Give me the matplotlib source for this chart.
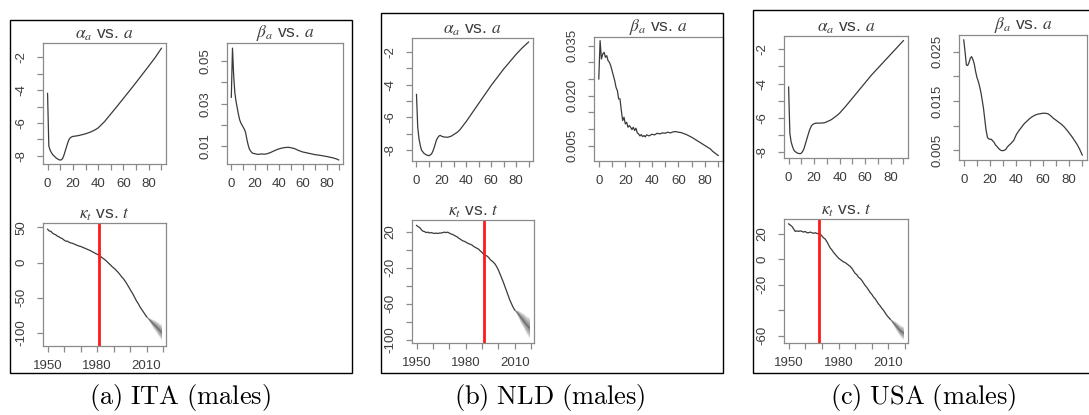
import matplotlib
matplotlib.use('Agg')
import matplotlib.pyplot as plt
from matplotlib.patches import Rectangle

plt.rcParams['font.family'] = ['Liberation Sans', 'DejaVu Sans']
plt.rcParams['mathtext.fontset'] = 'stix'

# ---------------- data ----------------
countries = ['ITA', 'NLD', 'USA']
captions = ['(a) ITA (males)', '(b) NLD (males)', '(c) USA (males)']

# alpha_a
ita_alpha_age = [0, 1, 2, 3, 4, 5, 7, 9, 10, 11, 12, 13, 14, 15, 16, 17, 18, 19, 20, 22, 25, 28, 30, 33, 35, 38, 40,
                 45, 50, 55, 60, 65, 70, 75, 80, 85, 90]
ita_alpha = [-4.2, -7.4, -7.65, -7.8, -7.92, -8.0, -8.15, -8.24, -8.26, -8.24, -8.15, -7.95, -7.7, -7.45, -7.2, -7.0,
             -6.9, -6.85, -6.82, -6.8, -6.76, -6.7, -6.66, -6.58, -6.52, -6.4, -6.3, -5.92, -5.45, -4.98, -4.5, -4.02,
             -3.53, -3.03, -2.53, -2.02, -1.45]
nld_alpha_age = [0, 1, 2, 3, 4, 6, 8, 10, 12, 13, 14, 15, 16, 17, 18, 19, 20, 22, 25, 28, 30, 33, 35, 38, 40,
                 45, 50, 55, 60, 65, 70, 75, 80, 85, 90]
nld_alpha = [-4.6, -6.6, -7.3, -7.7, -8.0, -8.2, -8.3, -8.35, -8.25, -8.1, -7.9, -7.65, -7.4, -7.25, -7.15, -7.1,
             -7.15, -7.2, -7.22, -7.15, -7.05, -6.9, -6.75, -6.45, -6.25, -5.7, -5.15, -4.6, -4.05, -3.55, -3.05,
             -2.6, -2.15, -1.75, -1.4]
usa_alpha_age = [0, 1, 2, 3, 4, 5, 7, 9, 10, 11, 12, 13, 14, 15, 16, 17, 18, 19, 20, 22, 25, 28, 30, 33, 35, 38, 40,
                 45, 50, 55, 60, 65, 70, 75, 80, 85, 90]
usa_alpha = [-4.2, -6.9, -7.4, -7.65, -7.85, -7.95, -8.05, -8.08, -8.05, -7.95, -7.8, -7.55, -7.3, -7.05, -6.8, -6.6,
             -6.45, -6.38, -6.33, -6.3, -6.3, -6.28, -6.22, -6.12, -6.02, -5.85, -5.72, -5.3, -4.85, -4.4, -3.95,
             -3.5, -3.1, -2.7, -2.3, -1.9, -1.5]

# beta_a
ita_beta_age = [0, 1, 2, 3, 4, 5, 6, 7, 8, 9, 10, 11, 12, 13, 14, 15, 16, 17, 18, 20, 22, 25, 28, 30, 33, 36, 39, 42,
                45, 48, 50, 53, 56, 60, 65, 70, 75, 80, 85, 88, 90]
ita_beta = [0.033, 0.056, 0.043, 0.035, 0.031, 0.028, 0.025, 0.0225, 0.021, 0.020, 0.019, 0.018, 0.0165, 0.0135,
            0.011, 0.009, 0.008, 0.0073, 0.0068, 0.0066, 0.0063, 0.0065, 0.0064, 0.0066, 0.0072, 0.008, 0.0087,
            0.0092, 0.0095, 0.0096, 0.0094, 0.009, 0.0082, 0.0074, 0.0068, 0.0062, 0.0058, 0.0053, 0.0047, 0.0042,
            0.0037]
nld_beta_age = [0, 1, 2, 3, 4, 5, 6, 7, 8, 9, 10, 11, 12, 13, 14, 15, 16, 17, 18, 19, 20, 21, 22, 23, 24, 25, 26, 27,
                28, 29, 30, 31, 32, 33, 34, 35, 36, 38, 40, 42, 44, 46, 48, 50, 52, 54, 56, 58, 60, 62, 64, 66, 68,
                70, 72, 74, 76, 78, 80, 82, 84, 86, 88, 90]
nld_beta = [0.025, 0.0365, 0.031, 0.0325, 0.033, 0.0315, 0.032, 0.0305, 0.030, 0.029, 0.0275, 0.026, 0.0245, 0.0225,
            0.0215, 0.019, 0.019, 0.0155, 0.0125, 0.0135, 0.0115, 0.012, 0.0105, 0.011, 0.0105, 0.0098, 0.0105,
            0.0095, 0.0102, 0.0088, 0.0085, 0.0079, 0.0083, 0.0077, 0.008, 0.0076, 0.0082, 0.0079, 0.0084, 0.0082,
            0.0087, 0.0085, 0.0088, 0.0087, 0.009, 0.0088, 0.0091, 0.0092, 0.009, 0.0089, 0.0086, 0.0083, 0.0079,
            0.0075, 0.007, 0.0065, 0.006, 0.0055, 0.005, 0.0045, 0.004, 0.0032, 0.0026, 0.0020]
usa_beta_age = [0, 1, 2, 3, 4, 5, 6, 7, 8, 9, 10, 11, 12, 13, 14, 15, 16, 17, 18, 19, 20, 21, 22, 23, 24, 25, 26, 27,
                28, 29, 30, 31, 32, 33, 34, 36, 38, 40, 42, 44, 46, 48, 50, 52, 54, 56, 58, 60, 62, 64, 66, 68, 70,
                72, 74, 76, 78, 80, 82, 84, 86, 88, 90]
usa_beta = [0.0274, 0.025, 0.0223, 0.0222, 0.0228, 0.0237, 0.024, 0.0234, 0.0225, 0.021, 0.0198, 0.019, 0.018,
            0.0168, 0.0152, 0.0135, 0.0112, 0.009, 0.0076, 0.0073, 0.0072, 0.0072, 0.0069, 0.0066, 0.0061, 0.0058,
            0.0055, 0.0052, 0.005, 0.0049, 0.0049, 0.005, 0.0052, 0.0056, 0.0059, 0.0064, 0.007, 0.0082, 0.009,
            0.0097, 0.0104, 0.0109, 0.0114, 0.0118, 0.0121, 0.0123, 0.0124, 0.0125, 0.0125, 0.0124, 0.012, 0.0115,
            0.0111, 0.0107, 0.0103, 0.0098, 0.0092, 0.0085, 0.0078, 0.007, 0.0062, 0.0052, 0.004]

# kappa_t (fitted)
ita_kappa_year = list(range(1950, 2011))
ita_kappa = [47.5, 45.0, 44.5, 42.0, 40.5, 39.5, 37.5, 36.5, 35.0, 34.0, 32.0, 30.5, 30.5, 29.0, 28.0, 27.5, 26.5,
             25.5, 24.5, 23.5, 23.0, 22.0, 21.0, 20.0, 19.0, 18.0, 17.0, 15.5, 14.5, 13.0, 12.0, 10.5, 9.0, 7.0,
             5.5, 3.5, 1.5, -1.0, -3.0, -5.5, -7.5, -9.5, -12.0, -14.5, -17.5, -20.5, -23.0, -26.5, -30.0, -34.0,
             -38.0, -42.0, -46.0, -50.5, -55.0, -58.5, -63.0, -66.5, -70.0, -73.5, -77.0]
nld_kappa_year = list(range(1950, 2011))
nld_kappa = [27, 25.5, 24.5, 22, 20.5, 20, 19, 19.5, 18.5, 19, 18.5, 18, 18.5, 18, 18.5, 18.5, 19, 19.5, 19, 19.5,
             18.5, 17.5, 17, 16, 15, 14, 12.5, 11.5, 10, 9.5, 8.5, 7.5, 6.5, 6, 5, 3.5, 2.5, 1.5, 0.5, -1.5, -3,
             -5, -6, -7, -8.5, -11, -12.5, -14, -16, -19, -22.5, -27, -31.5, -36, -41, -46, -51, -56, -60, -64, -67]
usa_kappa_year = list(range(1950, 2012))
usa_kappa = [28, 27, 26, 24, 22, 22.5, 22, 22.5, 22, 21.5, 22, 21, 21, 21.5, 21, 20.5, 21, 20.5, 20, 20, 18.5, 17,
             16, 14, 11.5, 9, 7.5, 5.5, 4, 2.5, 1, 0, -1, -2, -2.5, -3.5, -4.5, -5.5, -7, -9, -11, -12, -14, -15,
             -16.5, -18.5, -20.5, -22, -24, -26, -27.5, -29.5, -31, -33, -35, -36.5, -38.5, -40, -42, -44, -45.5,
             -47]

# kappa_t simulated fan (centre and outer half-width)
ita_fan_year = list(range(2010, 2020))
ita_fan_mid = [-77, -79.5, -82, -84.5, -87, -89, -91.5, -94, -96.5, -99]
ita_fan_half = [0, 1.5, 3, 4.5, 6, 7, 8, 9, 10, 11]
nld_fan_year = list(range(2010, 2020))
nld_fan_mid = [-67, -69, -71, -73.5, -76, -78, -80.5, -83, -85, -87]
nld_fan_half = [0, 2, 3.5, 5, 6.5, 7.5, 8.5, 9.5, 10.5, 11.5]
usa_fan_year = list(range(2011, 2020))
usa_fan_mid = [-47, -48.5, -50, -51.5, -53, -54.5, -56, -57, -58]
usa_fan_half = [0, 1.2, 2, 2.8, 3.4, 4, 4.4, 4.8, 5]

# cut-off years (red lines)
cut_year = [1981, 1991, 1968]

# ticks
age_major = [0, 20, 40, 60, 80]
age_major_labels = ['0', '20', '40', '60', '80']
age_minor = [10, 30, 50, 70, 90]
year_major = [1950, 1980, 2010]
year_major_labels = ['1950', '1980', '2010']
year_minor = [1960, 1970, 1990, 2000, 2020]
alpha_major = [-2, -4, -6, -8]
alpha_major_labels = ['-2', '-4', '-6', '-8']
alpha_minor = [-3, -5, -7]
beta_major = [[0.01, 0.03, 0.05], [0.005, 0.020, 0.035], [0.005, 0.015, 0.025]]
beta_major_labels = [['0.01', '0.03', '0.05'], ['0.005', '0.020', '0.035'], ['0.005', '0.015', '0.025']]
beta_minor = [[0.02, 0.04], [0.010, 0.015, 0.025, 0.030], [0.010, 0.020]]
kappa_major = [[50, 0, -50, -100], [20, -20, -60, -100], [20, 0, -20, -60]]
kappa_major_labels = [['50', '0', '-50', '-100'], ['20', '-20', '-60', '-100'], ['20', '0', '-20', '-60']]
kappa_minor = [[], [0, -40, -80], [-40]]

alpha_ages = [ita_alpha_age, nld_alpha_age, usa_alpha_age]
alphas = [ita_alpha, nld_alpha, usa_alpha]
beta_ages = [ita_beta_age, nld_beta_age, usa_beta_age]
betas = [ita_beta, nld_beta, usa_beta]
kappa_years = [ita_kappa_year, nld_kappa_year, usa_kappa_year]
kappas = [ita_kappa, nld_kappa, usa_kappa]
fan_years = [ita_fan_year, nld_fan_year, usa_fan_year]
fan_mids = [ita_fan_mid, nld_fan_mid, usa_fan_mid]
fan_halves = [ita_fan_half, nld_fan_half, usa_fan_half]

# ---------------- layout (pixels) ----------------
W, H = 1089, 415
fig = plt.figure(figsize=(W / 100, H / 100), dpi=100)


def frac(x0, y0, x1, y1):
    return [x0 / W, 1 - y1 / H, (x1 - x0) / W, (y1 - y0) / H]


boxes = [(10, 20, 352, 373), (381, 13, 723, 373), (753, 10, 1120, 373)]
alpha_rects = [(43, 43, 166, 164), (412, 38, 533, 161), (784, 36, 908, 158)]
beta_rects = [(227, 43, 343, 164), (594, 37, 723, 161), (959, 35, 1087, 160)]
kappa_rects = [(43, 223, 166, 346), (412, 220, 534, 343), (784, 219, 908, 343)]
caption_x = [180, 550, 923]
alpha_ylims = [(-8.5, -1.13), (-8.67, -1.15), (-8.33, -1.23)]
beta_ylims = [(0.0018, 0.0584), (0.00036, 0.0376), (0.0030, 0.0284)]
kappa_ylims = [(-118.6, 56.3), (-103.7, 33.0), (-65.8, 31.8)]
age_xlim = (-3.6, 93.6)
year_xlim = (1947.24, 2021.76)

FRAME = '#8a8a8a'
LINE = '#3a3a3a'
TXT = '#3c3c3c'


def style(ax, xmaj, xlab, xmin, ymaj, ylab, ymin):
    ax.set_xticks(xmaj)
    ax.set_xticklabels(xlab)
    ax.set_xticks(xmin, minor=True)
    ax.set_yticks(ymaj)
    ax.set_yticklabels(ylab, rotation=90, va='center')
    ax.set_yticks(ymin, minor=True)
    for s in ax.spines.values():
        s.set_color(FRAME)
        s.set_linewidth(0.9)
    ax.tick_params(which='both', direction='out', length=4, width=0.9, color=FRAME)
    ax.tick_params(axis='x', which='major', pad=6, labelsize=9.5, labelcolor=TXT)
    ax.tick_params(axis='y', which='major', pad=7, labelsize=9.5, labelcolor=TXT)


def title(ax, s):
    ax.set_title(s, fontsize=12.5, color=TXT, pad=3)


for i in range(3):
    bx = boxes[i]
    fig.patches.append(Rectangle((bx[0] / W, 1 - bx[3] / H), (bx[2] - bx[0]) / W, (bx[3] - bx[1]) / H,
                                 transform=fig.transFigure, fill=False, edgecolor='black', linewidth=1.0))

    # alpha
    ax = fig.add_axes(frac(*alpha_rects[i]))
    ax.plot(alpha_ages[i], alphas[i], color=LINE, lw=0.9)
    ax.set_xlim(age_xlim)
    ax.set_ylim(alpha_ylims[i])
    style(ax, age_major, age_major_labels, age_minor, alpha_major, alpha_major_labels, alpha_minor)
    title(ax, r'$\alpha_a$ vs. $a$')

    # beta
    ax = fig.add_axes(frac(*beta_rects[i]))
    ax.plot(beta_ages[i], betas[i], color=LINE, lw=0.9)
    ax.set_xlim(age_xlim)
    ax.set_ylim(beta_ylims[i])
    style(ax, age_major, age_major_labels, age_minor, beta_major[i], beta_major_labels[i], beta_minor[i])
    title(ax, r'$\beta_a$ vs. $a$')

    # kappa
    ax = fig.add_axes(frac(*kappa_rects[i]))
    fy, fm, fh = fan_years[i], fan_mids[i], fan_halves[i]
    for k in [1.0, 0.8, 0.6, 0.4, 0.2]:
        ax.fill_between(fy, [m - h * k for m, h in zip(fm, fh)], [m + h * k for m, h in zip(fm, fh)],
                        color='#4a4a4a', alpha=0.18, linewidth=0)
    ax.plot(fy, fm, color='#555555', lw=0.8, alpha=0.6)
    ax.plot(kappa_years[i], kappas[i], color=LINE, lw=0.9)
    ax.axvline(cut_year[i], color='#ff1a1a', lw=2)
    ax.set_xlim(year_xlim)
    ax.set_ylim(kappa_ylims[i])
    style(ax, year_major, year_major_labels, year_minor, kappa_major[i], kappa_major_labels[i], kappa_minor[i])
    title(ax, r'$\kappa_t$ vs. $t$')

    cap = '$\\mathrm{' + captions[i].replace(' ', '\\ ') + '}$'
    fig.text(caption_x[i] / W, 1 - 397 / H, cap, ha='center', va='center', fontsize=19,
             math_fontfamily='cm', color='black')

fig.savefig('out.png', dpi=100, facecolor='white')
